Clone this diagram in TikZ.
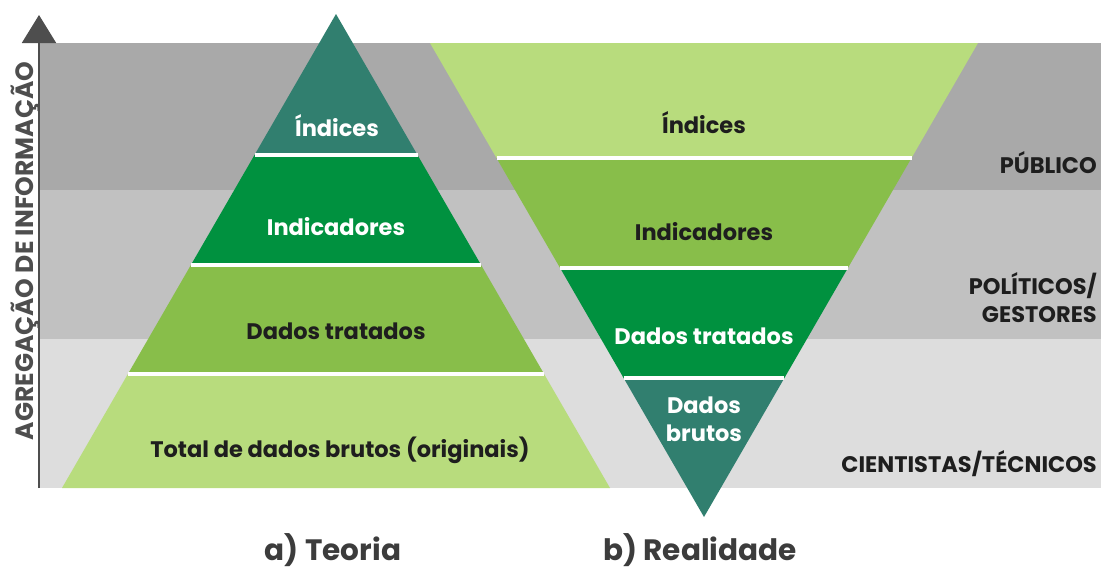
\documentclass[tikz,border=0pt]{standalone}
\usepackage{fontspec}
\setmainfont{Poppins}
\usetikzlibrary{arrows.meta}
\definecolor{bandA}{HTML}{A9A9A9}
\definecolor{bandB}{HTML}{C1C1C1}
\definecolor{bandC}{HTML}{DDDDDD}
\definecolor{teal}{HTML}{317F6F}
\definecolor{dgreen}{HTML}{00913F}
\definecolor{mgreen}{HTML}{88BE4A}
\definecolor{lgreen}{HTML}{B8DC7D}
\definecolor{ink}{HTML}{1E1E1E}
\definecolor{axisgray}{HTML}{4E4E4E}
\definecolor{capgray}{HTML}{3C3C3C}
\tikzset{
  lbl/.style={font=\bfseries\fontsize{22.5}{24}\selectfont, anchor=base, inner sep=0pt},
  lw/.style={lbl, text=white},
  ld/.style={lbl, text=ink},
  rl/.style={lbl, text=ink, anchor=base east},
  capt/.style={font=\bfseries\fontsize{29.5}{32}\selectfont, text=capgray, anchor=base, inner sep=0pt},
  sep/.style={draw=white, line width=4pt},
}
\begin{document}
\begin{tikzpicture}[x=1pt,y=-1pt]
\useasboundingbox (0,0) rectangle (1101,571);
% bands
\fill[bandA] (39,43) rectangle (1101,190);
\fill[bandB] (39,190) rectangle (1101,339);
\fill[bandC] (39,339) rectangle (1101,488);
% left pyramid
\fill[teal] (336,14) -- (417.5,155) -- (254.5,155) -- cycle;
\fill[dgreen] (254.5,155) -- (417.5,155) -- (481.1,265) -- (190.9,265) -- cycle;
\fill[mgreen] (190.9,265) -- (481.1,265) -- (544.1,374) -- (127.9,374) -- cycle;
\fill[lgreen] (127.9,374) -- (544.1,374) -- (610,488) -- (62,488) -- cycle;
\draw[sep] (254.5,155) -- (417.5,155);
\draw[sep] (190.9,265) -- (481.1,265);
\draw[sep] (127.9,374) -- (544.1,374);
% right inverted pyramid
\fill[lgreen] (430,43) -- (978,43) -- (911.5,158) -- (496.5,158) -- cycle;
\fill[mgreen] (496.5,158) -- (911.5,158) -- (847.9,268) -- (560.1,268) -- cycle;
\fill[dgreen] (560.1,268) -- (847.9,268) -- (784.4,378) -- (623.6,378) -- cycle;
\fill[teal] (623.6,378) -- (784.4,378) -- (704,517) -- cycle;
\draw[sep] (496.5,158) -- (911.5,158);
\draw[sep] (560.1,268) -- (847.9,268);
\draw[sep] (623.6,378) -- (784.4,378);
% axis
\coordinate (axbot) at (39,488);
\coordinate (axtop) at (39,15);
\draw[axisgray, line width=2pt, -{Triangle[width=34pt,length=28pt]}] (axbot) -- (axtop);
\node[font=\bfseries\fontsize{25}{27}\selectfont, text=axisgray, rotate=90, anchor=base, inner sep=0pt] (axlbl) at (33,251) {AGREGAÇÃO DE INFORMAÇÃO};
% left labels
\node[lw] (li) at (337,136) {Índices};
\node[lw] (lind) at (336,235) {Indicadores};
\node[ld] (ldt) at (336,339) {Dados tratados};
\node[ld] (ltot) at (340,457) {Total de dados brutos (originais)};
% right labels
\node[ld] (ri) at (704,133) {Índices};
\node[ld] (rind) at (704,240) {Indicadores};
\node[lw] (rdt) at (704,344) {Dados tratados};
\node[lw] (rd) at (704,413) {Dados};
\node[lw] (rb) at (704,441) {brutos};
% audience labels
\node[rl] (pub) at (1097,173) {PÚBLICO};
\node[rl] (pol) at (1097,294) {POLÍTICOS/};
\node[rl] (ges) at (1097,322) {GESTORES};
\node[rl] (cie) at (1097,472) {CIENTISTAS/TÉCNICOS};
% captions
\node[capt] (ca) at (333,560) {a) Teoria};
\node[capt] (cb) at (700,560) {b) Realidade};
\end{tikzpicture}
\end{document}
